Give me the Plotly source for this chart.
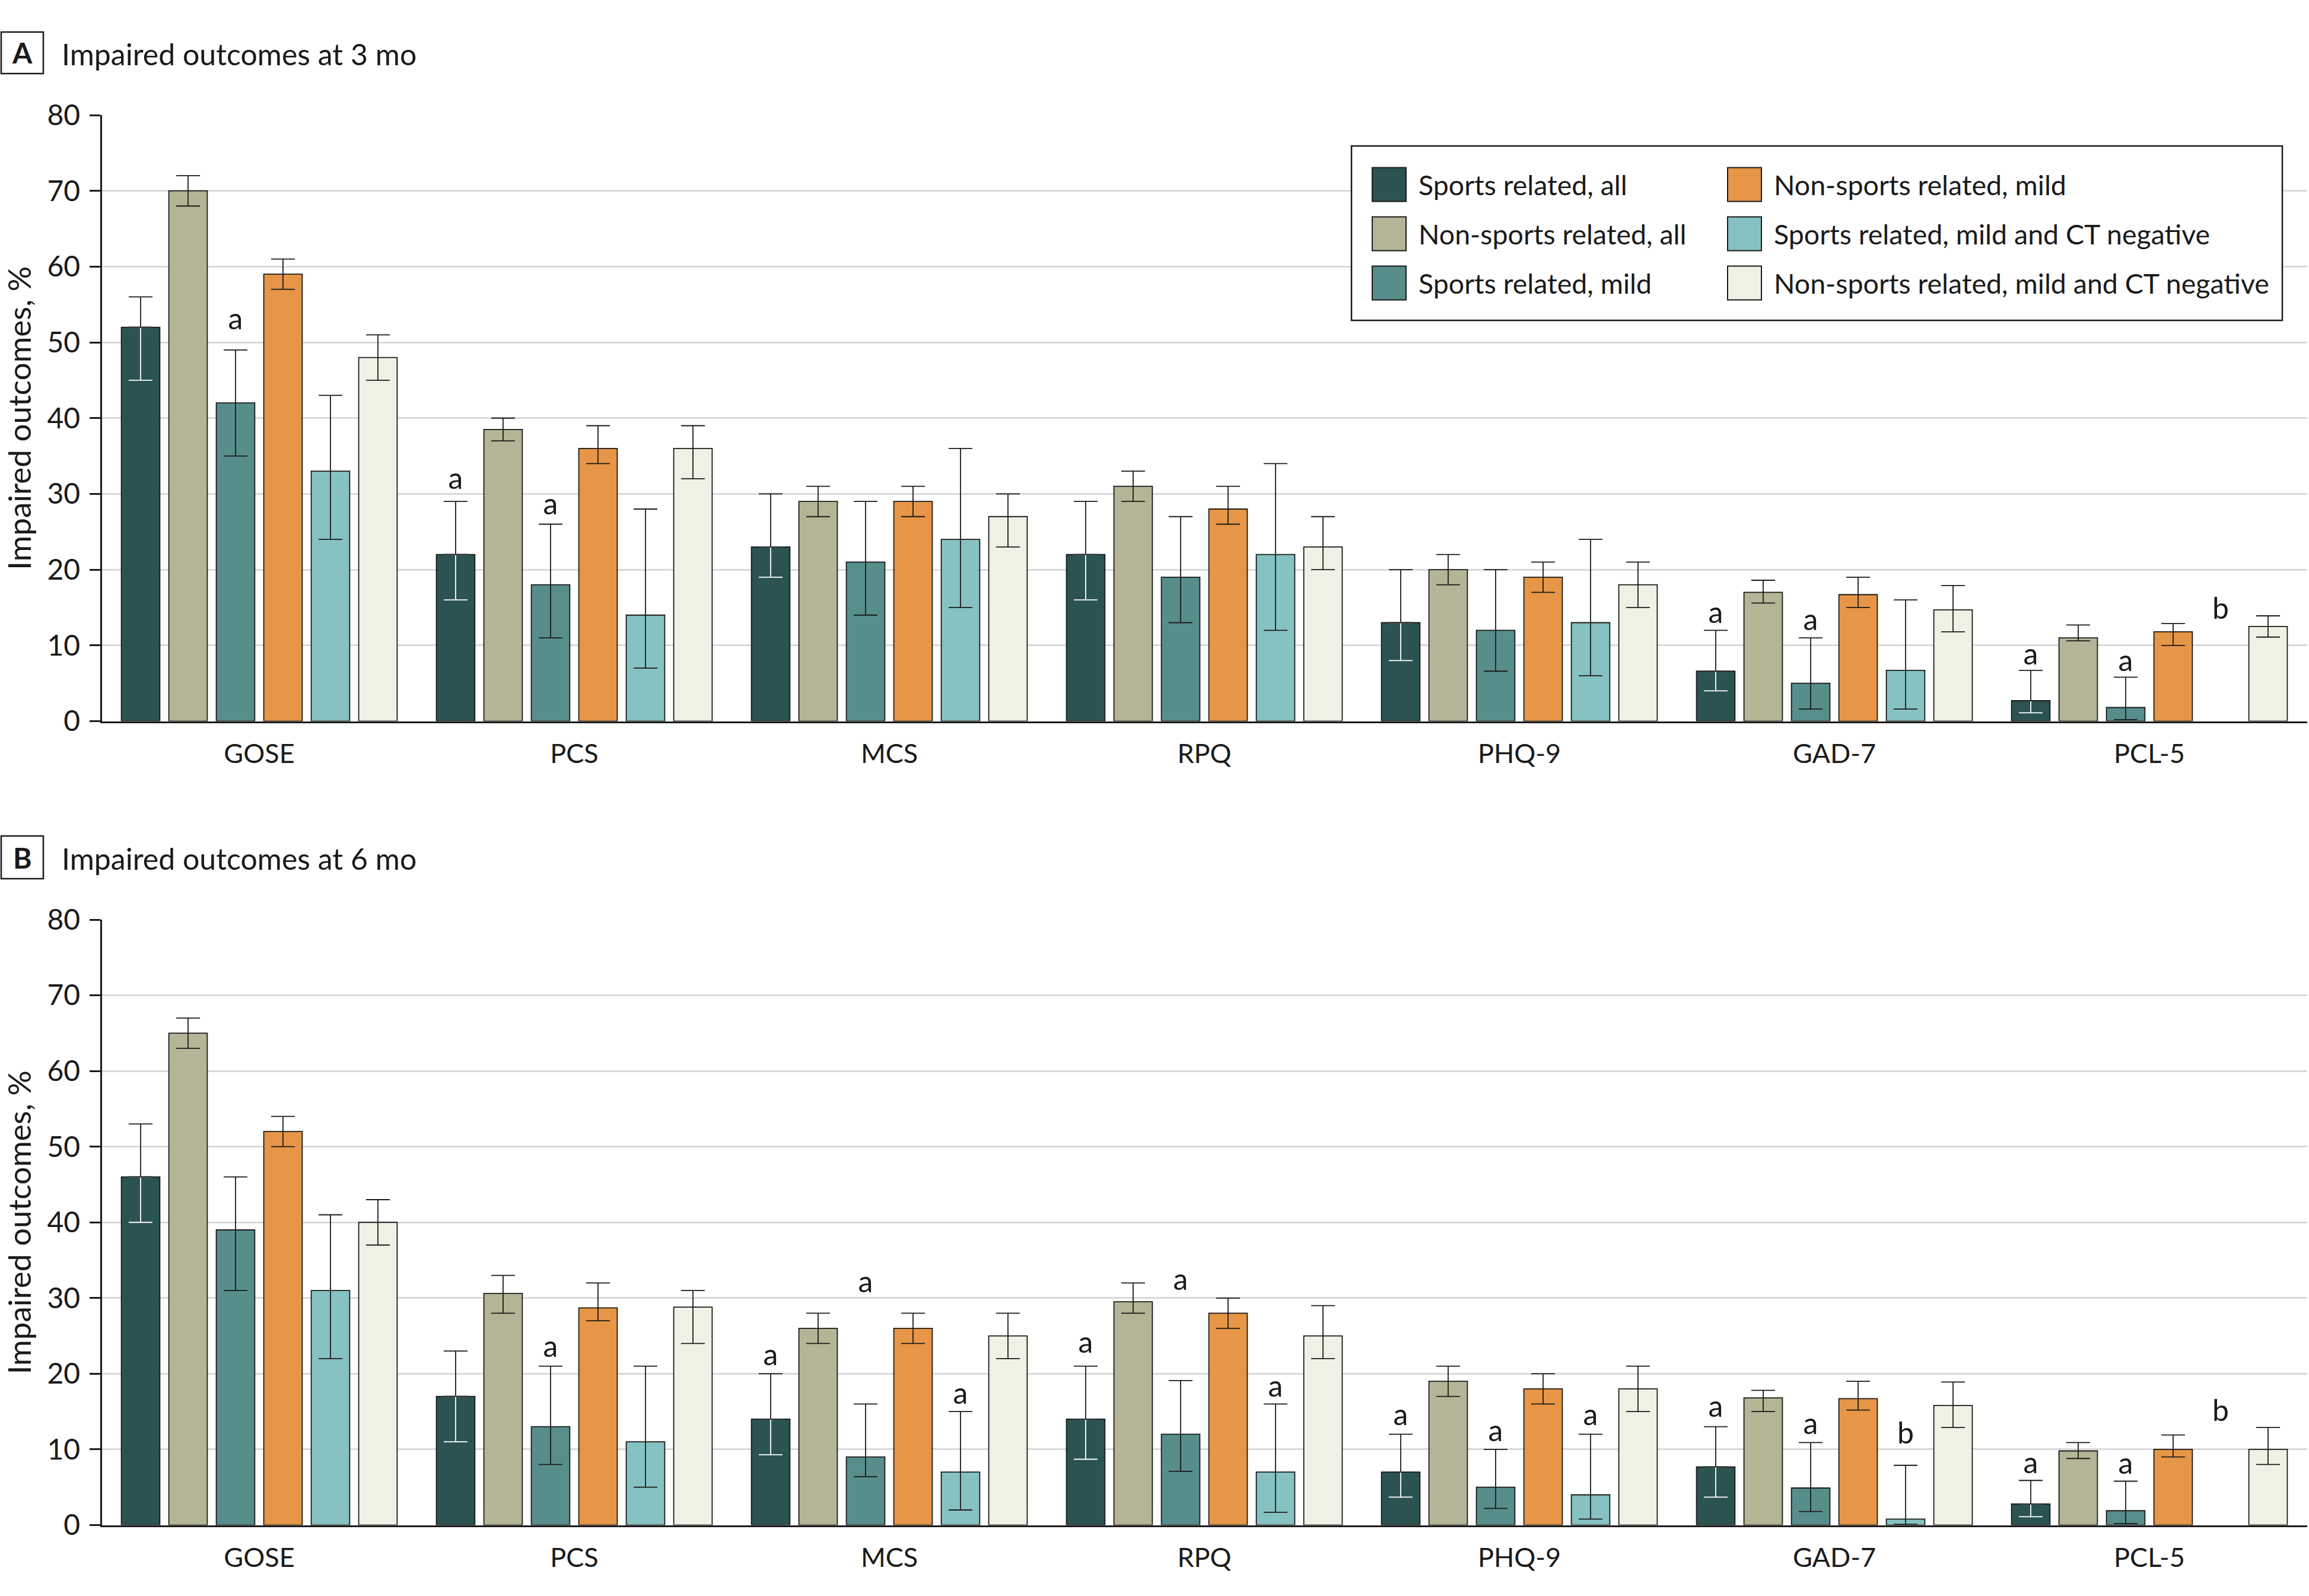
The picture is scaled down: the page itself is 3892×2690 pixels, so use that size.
import plotly.graph_objects as go

W, H = 3892, 2690

categories = ["GOSE", "PCS", "MCS", "RPQ", "PHQ-9", "GAD-7", "PCL-5"]
series_names = [
    "Sports related, all",
    "Non-sports related, all",
    "Sports related, mild",
    "Non-sports related, mild",
    "Sports related, mild and CT negative",
    "Non-sports related, mild and CT negative",
]
colors = ["#2B5352", "#B3B596", "#578E8C", "#E69646", "#86C2C1", "#F0F1E5"]

# ---- Panel A: impaired outcomes at 3 months (%), rows = series, cols = categories
mo3_pct = [
    [52, 22, 23, 22, 13, 6.6, 2.7],
    [70, 38.5, 29, 31, 20, 17, 11],
    [42, 18, 21, 19, 12, 5, 1.8],
    [59, 36, 29, 28, 19, 16.7, 11.8],
    [33, 14, 24, 22, 13, 6.7, None],
    [48, 36, 27, 23, 18, 14.7, 12.5],
]
mo3_lo = [
    [45, 16, 19, 16, 8, 4, 1.1],
    [68, 37, 27, 29, 18, 15.6, 10.6],
    [35, 11, 14, 13, 6.6, 1.6, 0.2],
    [57, 34, 27, 26, 17, 15, 10],
    [24, 7, 15, 12, 6, 1.6, None],
    [45, 32, 23, 20, 15, 11.8, 11.1],
]
mo3_hi = [
    [56, 29, 30, 29, 20, 12, 6.7],
    [72, 40, 31, 33, 22, 18.6, 12.7],
    [49, 26, 29, 27, 20, 11, 5.8],
    [61, 39, 31, 31, 21, 19, 12.9],
    [43, 28, 36, 34, 24, 16, None],
    [51, 39, 30, 27, 21, 17.9, 13.9],
]
mo3_mark = [
    ["", "a", "", "", "", "a", "a"],
    ["", "", "", "", "", "", ""],
    ["a", "a", "", "", "", "a", "a"],
    ["", "", "", "", "", "", ""],
    ["", "", "", "", "", "", "b"],
    ["", "", "", "", "", "", ""],
]
mo3_mark_y = [
    [None, 30.6, None, None, None, 12.9, 7.4],
    [None] * 7,
    [51.6, 27.2, None, None, None, 11.9, 6.5],
    [None] * 7,
    [None, None, None, None, None, None, 13.4],
    [None] * 7,
]

# ---- Panel B: impaired outcomes at 6 months (%)
mo6_pct = [
    [46, 17, 14, 14, 7, 7.7, 2.8],
    [65, 30.6, 26, 29.5, 19, 16.8, 9.8],
    [39, 13, 9, 12, 5, 4.9, 1.9],
    [52, 28.7, 26, 28, 18, 16.7, 10],
    [31, 11, 7, 7, 4, 0.8, None],
    [40, 28.8, 25, 25, 18, 15.8, 10],
]
mo6_lo = [
    [40, 11, 9.3, 8.7, 3.7, 3.7, 1.1],
    [63, 28, 24, 28, 17, 15, 8.8],
    [31, 8, 6.4, 7.1, 2.2, 1.8, 0.2],
    [50, 27, 24, 26, 16, 15.2, 9],
    [22, 5, 2, 1.7, 0.8, 0.1, None],
    [37, 24, 22, 22, 15, 12.9, 8],
]
mo6_hi = [
    [53, 23, 20, 21, 12, 13, 5.9],
    [67, 33, 28, 32, 21, 17.8, 10.9],
    [46, 21, 16, 19.1, 10, 10.9, 5.8],
    [54, 32, 28, 30, 20, 19, 11.9],
    [41, 21, 15, 16, 12, 7.9, None],
    [43, 31, 28, 29, 21, 18.9, 12.9],
]
mo6_mark = [
    ["", "", "a", "a", "a", "a", "a"],
    ["", "", "", "", "", "", ""],
    ["", "a", "a", "a", "a", "a", "a"],
    ["", "", "", "", "", "", ""],
    ["", "", "a", "a", "a", "b", "b"],
    ["", "", "", "", "", "", ""],
]
mo6_mark_y = [
    [None, None, 21.0, 22.7, 13.1, 14.2, 6.8],
    [None] * 7,
    [None, 22.1, 30.7, 31.0, 11.0, 11.9, 6.7],
    [None] * 7,
    [None, None, 15.9, 16.9, 13.1, 10.7, 13.7],
    [None] * 7,
]

panel_titles = ["Impaired outcomes at 3 mo", "Impaired outcomes at 6 mo"]
panel_letters = ["A", "B"]
y_title = "Impaired outcomes, %"
y_ticks = [0, 10, 20, 30, 40, 50, 60, 70, 80]

# ---------------- styling ----------------
FONT = "Lato"
INK = "#1a1a1a"
OUTLINE = "#1a1a1a"
ERR_W = 20
ERR_T = 1.8
TEXT_DROP = 1.0  # data units between letter baseline and the invisible anchor bar


def fx(px):
    return px / W


def fy(py):
    return 1 - py / H


fig = go.Figure()

panels = [
    ("x", "y", mo3_pct, mo3_lo, mo3_hi, mo3_mark, mo3_mark_y),
    ("x2", "y2", mo6_pct, mo6_lo, mo6_hi, mo6_mark, mo6_mark_y),
]

for xa, ya, pct, lo, hi, mark, mark_y in panels:
    for s in range(6):
        vals = pct[s]
        plus = [None if v is None else h - v for v, h in zip(vals, hi[s])]
        minus = [None if v is None else v - l for v, l in zip(vals, lo[s])]
        dark = s == 0
        fig.add_trace(go.Bar(
            x=categories, y=vals, name=series_names[s], xaxis=xa, yaxis=ya,
            offsetgroup=str(s), showlegend=False,
            marker=dict(color=colors[s], line=dict(color=OUTLINE, width=1.8)),
            error_y=dict(type="data", symmetric=False, array=plus,
                         arrayminus=[0] * 7 if dark else minus,
                         color=INK, thickness=ERR_T, width=ERR_W),
            hoverinfo="skip",
        ))
        if dark:
            # white lower half of the interval, drawn over the dark bar
            fig.add_trace(go.Bar(
                x=categories, y=vals, xaxis=xa, yaxis=ya, offsetgroup=str(s),
                showlegend=False, marker=dict(color="rgba(0,0,0,0)", line=dict(width=0)),
                error_y=dict(type="data", symmetric=False, array=[0] * 7,
                             arrayminus=minus, color="white",
                             thickness=ERR_T, width=ERR_W),
                hoverinfo="skip",
            ))
            # restore the black cap at the bar top
            fig.add_trace(go.Bar(
                x=categories, y=vals, xaxis=xa, yaxis=ya, offsetgroup=str(s),
                showlegend=False, marker=dict(color="rgba(0,0,0,0)", line=dict(width=0)),
                error_y=dict(type="data", symmetric=False, array=[0] * 7,
                             arrayminus=[0] * 7, color=INK,
                             thickness=ERR_T, width=ERR_W),
                hoverinfo="skip",
            ))
        # significance letters
        anchor = [None if (m == "" or y is None) else y - TEXT_DROP
                  for m, y in zip(mark[s], mark_y[s])]
        fig.add_trace(go.Bar(
            x=categories, y=anchor, xaxis=xa, yaxis=ya, offsetgroup=str(s),
            showlegend=False, marker=dict(color="rgba(0,0,0,0)", line=dict(width=0)),
            text=mark[s], textposition="outside", cliponaxis=False,
            constraintext="none",
            textfont=dict(family=FONT, size=50, color=INK),
            hoverinfo="skip",
        ))

x_dom = [fx(171.5), fx(3888.5)]
dom_A = [fy(1215.5), fy(194)]
dom_B = [fy(2570.5), fy(1550)]

xcommon = dict(
    type="category", domain=x_dom, range=[-0.5, 6.5],
    showline=True, linecolor=INK, linewidth=2.5, ticks="", showgrid=False,
    tickfont=dict(family=FONT, size=45, color=INK), ticklabelstandoff=14,
    automargin=False, zeroline=False, fixedrange=True,
)
ycommon = dict(
    range=[0, 80], tickvals=y_ticks, showline=True, linecolor=INK, linewidth=2.5,
    ticks="outside", ticklen=18, tickwidth=2.5, tickcolor=INK,
    showgrid=True, gridcolor="#d9d9d9", gridwidth=3.3, zeroline=False,
    tickfont=dict(family=FONT, size=48, color=INK), ticklabelstandoff=6,
    title=dict(text=y_title, font=dict(family=FONT, size=53, color=INK), standoff=20),
    automargin=False, fixedrange=True,
)

fig.update_layout(
    width=W, height=H, template="none",
    paper_bgcolor="white", plot_bgcolor="white",
    margin=dict(l=0, r=0, t=0, b=0),
    barmode="group", bargap=0.096, bargroupgap=0.19,
    showlegend=False,
    font=dict(family=FONT, color=INK),
    xaxis=dict(xcommon, anchor="y"),
    yaxis=dict(ycommon, domain=dom_A, anchor="x"),
    xaxis2=dict(xcommon, anchor="y2"),
    yaxis2=dict(ycommon, domain=dom_B, anchor="x2"),
)

shapes = []
annotations = []

# panel headers
for letter, title, (top, bot) in zip(panel_letters, panel_titles, [(54, 124), (1409, 1481)]):
    shapes.append(dict(type="rect", xref="paper", yref="paper",
                       x0=fx(2), x1=fx(73), y0=fy(bot), y1=fy(top),
                       line=dict(color=INK, width=2.5), fillcolor="white"))
    annotations.append(dict(xref="paper", yref="paper", x=fx(37.5), y=fy((top + bot) / 2),
                            text="<b>%s</b>" % letter, showarrow=False,
                            xanchor="center", yanchor="middle",
                            font=dict(family=FONT, size=48, color=INK)))
    annotations.append(dict(xref="paper", yref="paper", x=fx(102), y=fy((top + bot) / 2 + 2),
                            text=title, showarrow=False, xanchor="left", yanchor="middle",
                            font=dict(family=FONT, size=50, color=INK)))

# legend (panel A)
shapes.append(dict(type="rect", xref="paper", yref="paper",
                   x0=fx(2278), x1=fx(3847), y0=fy(540), y1=fy(246),
                   line=dict(color=INK, width=2.5), fillcolor="white"))
col_sw = [2313, 2912]
col_tx = [2389, 2988]
row_y = [311, 394, 477]
for i, name in enumerate(series_names):
    c, r = divmod(i, 3)
    cy = row_y[r]
    shapes.append(dict(type="rect", xref="paper", yref="paper",
                       x0=fx(col_sw[c]), x1=fx(col_sw[c] + 57),
                       y0=fy(cy + 28.5), y1=fy(cy - 28.5),
                       line=dict(color=OUTLINE, width=2), fillcolor=colors[i]))
    annotations.append(dict(xref="paper", yref="paper", x=fx(col_tx[c]), y=fy(cy),
                            text=name, showarrow=False, xanchor="left", yanchor="middle",
                            font=dict(family=FONT, size=46.5, color=INK)))

fig.update_layout(shapes=shapes, annotations=annotations)

fig.write_html("out.html", config={"displayModeBar": False},
               post_script="document.body.style.margin='0px';document.body.style.overflow='hidden';")
